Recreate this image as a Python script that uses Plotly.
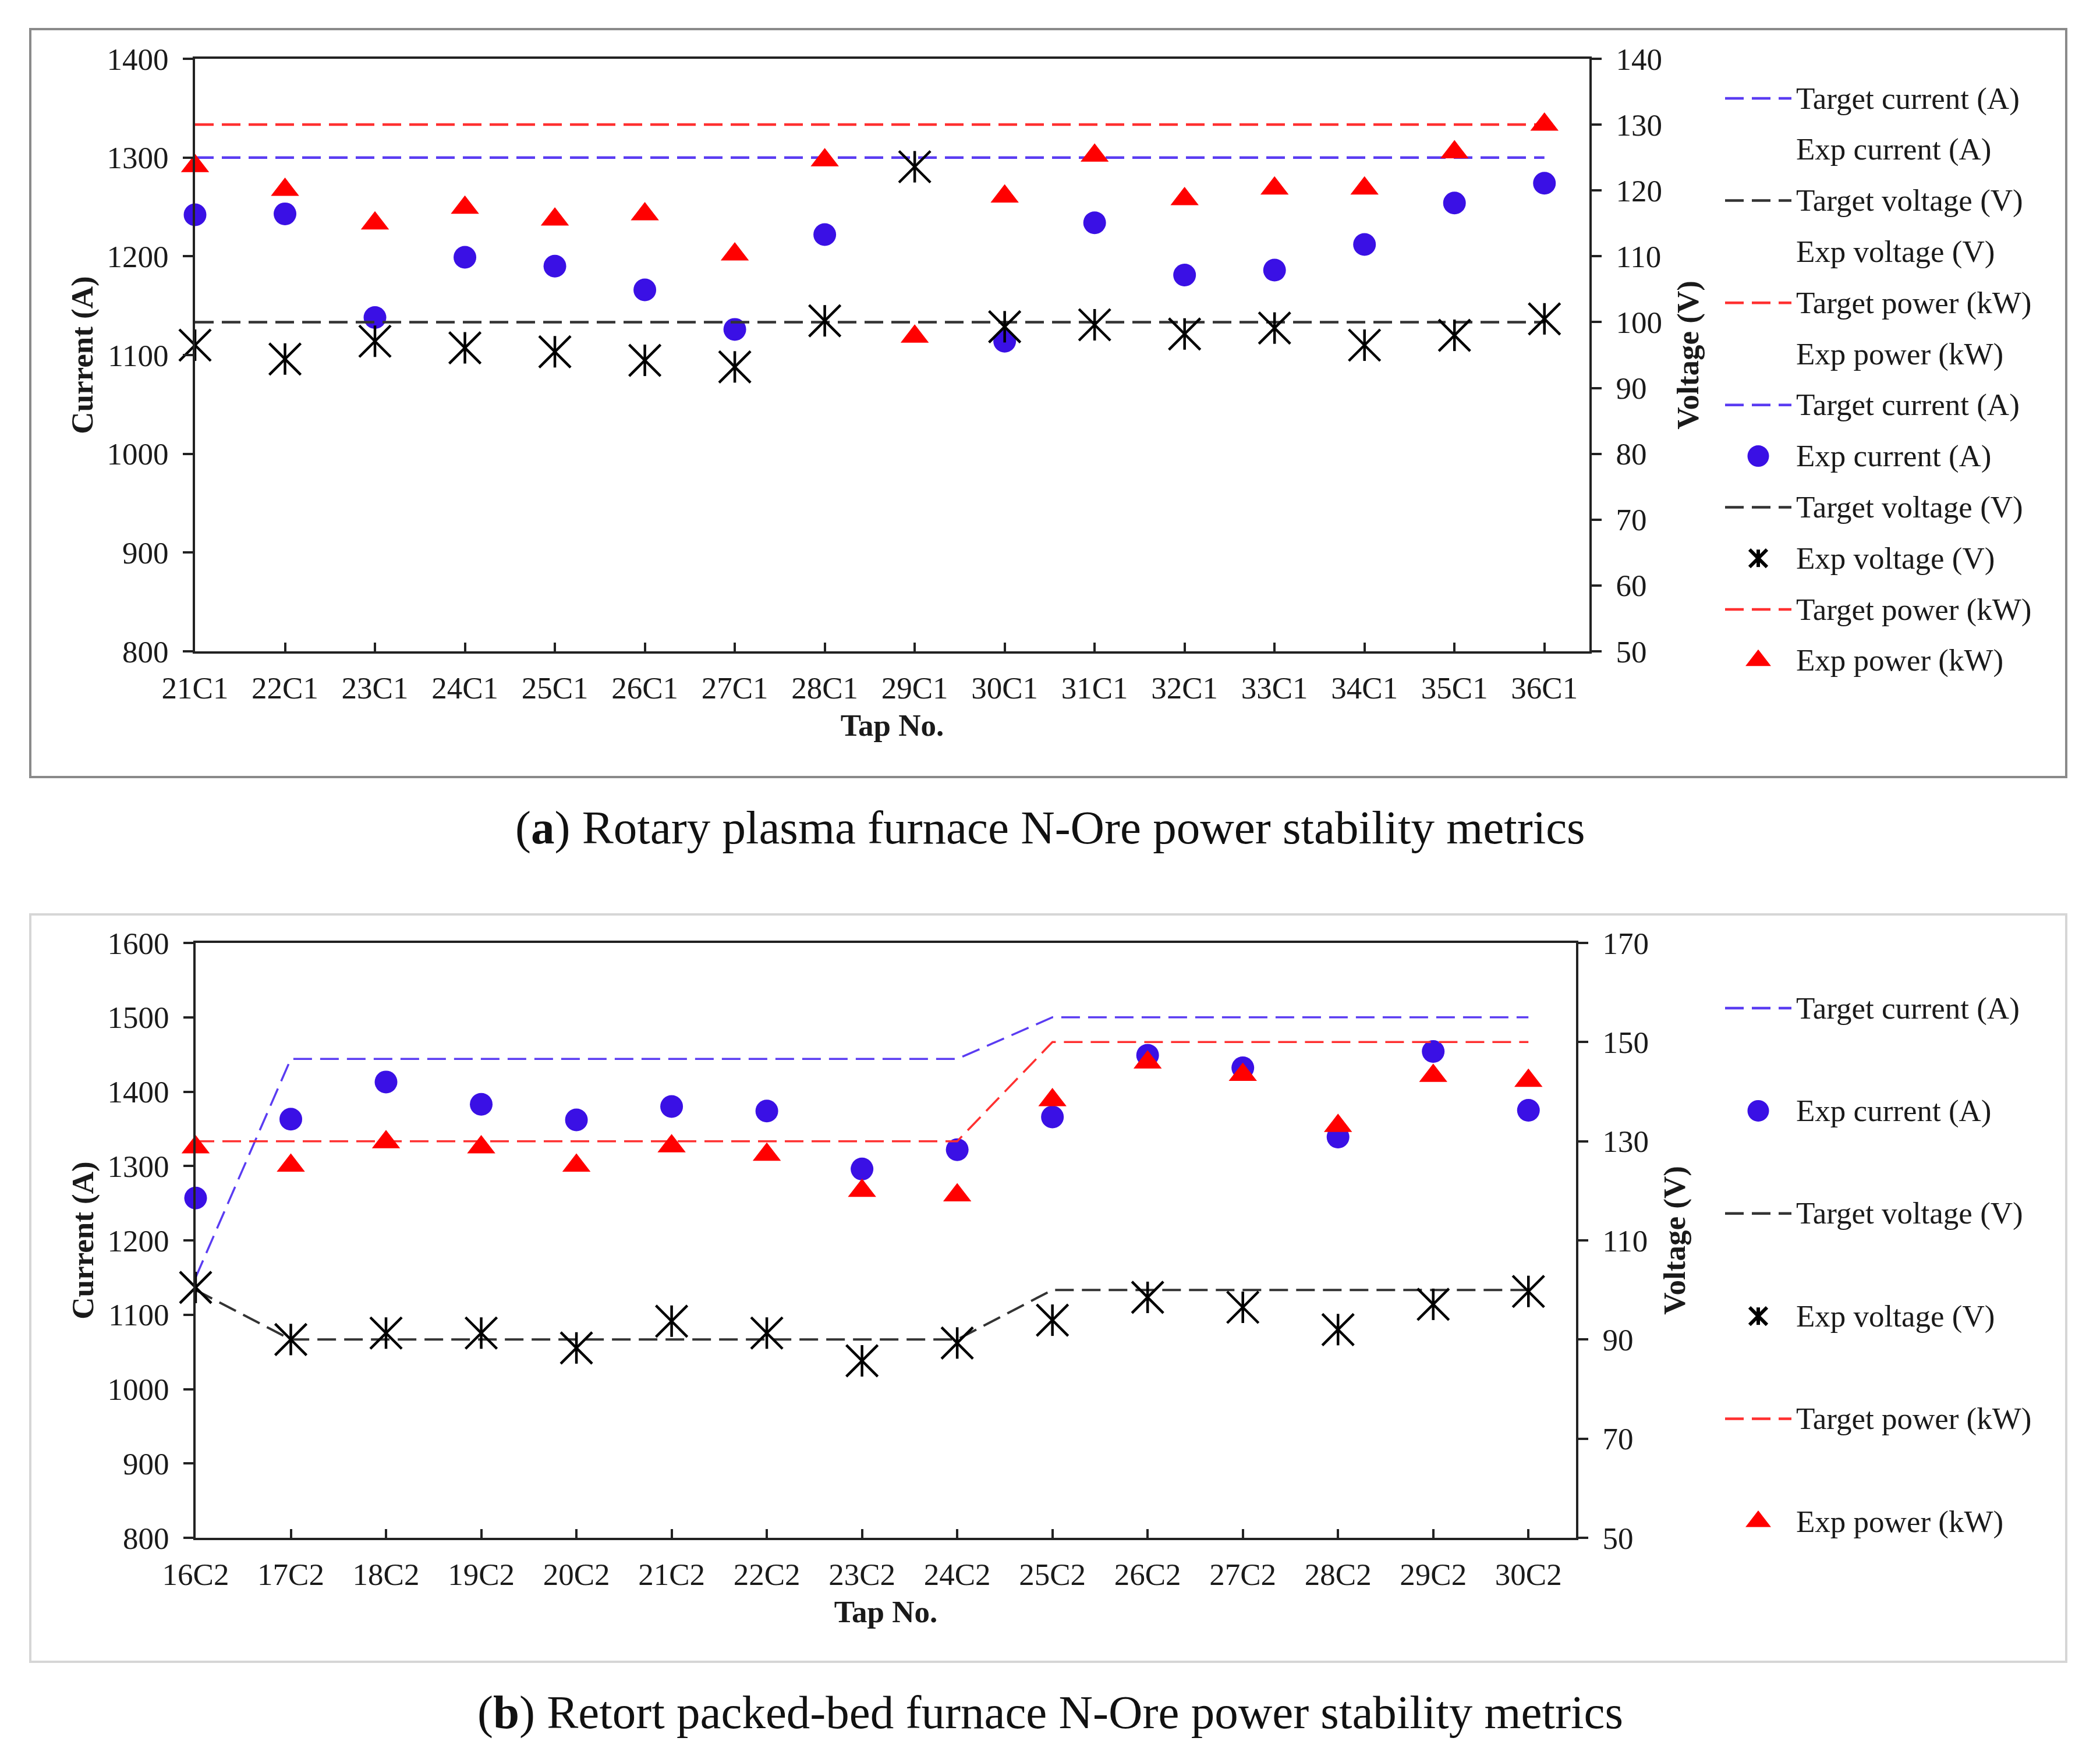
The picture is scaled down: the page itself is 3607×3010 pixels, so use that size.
import plotly.graph_objects as go

W, H = 3607, 3010
FONT = "Liberation Serif"
TXT = "#1a1a1a"

# ---------------- Data: panel (a) ----------------
taps_a = ["21C1", "22C1", "23C1", "24C1", "25C1", "26C1", "27C1", "28C1",
          "29C1", "30C1", "31C1", "32C1", "33C1", "34C1", "35C1", "36C1"]
target_current_a = [1300, 1300, 1300, 1300, 1300, 1300, 1300, 1300,
                    1300, 1300, 1300, 1300, 1300, 1300, 1300, 1300]
exp_current_a = [1242, 1243, 1138, 1199, 1190, 1166, 1126, 1222,
                 None, 1114, 1234, 1181, 1186, 1212, 1254, 1274]
target_voltage_a = [100, 100, 100, 100, 100, 100, 100, 100,
                    100, 100, 100, 100, 100, 100, 100, 100]
exp_voltage_a = [96.5, 94.4, 97.1, 96.1, 95.5, 94.2, 93.2, 100.2,
                 123.6, 99.3, 99.6, 98.2, 99.1, 96.5, 98.0, 100.5]
target_power_a = [130, 130, 130, 130, 130, 130, 130, 130,
                  130, 130, 130, 130, 130, 130, 130, 130]
exp_power_a = [123.7, 120.1, 115.0, 117.4, 115.6, 116.4, 110.3, 124.6,
               97.8, 119.1, 125.3, 118.7, 120.3, 120.3, 125.8, 130.0]
current_ticks_a = [800, 900, 1000, 1100, 1200, 1300, 1400]
voltage_ticks_a = [50, 60, 70, 80, 90, 100, 110, 120, 130, 140]

# ---------------- Data: panel (b) ----------------
taps_b = ["16C2", "17C2", "18C2", "19C2", "20C2", "21C2", "22C2", "23C2",
          "24C2", "25C2", "26C2", "27C2", "28C2", "29C2", "30C2"]
target_current_b = [1150, 1444, 1444, 1444, 1444, 1444, 1444, 1444,
                    1444, 1500, 1500, 1500, 1500, 1500, 1500]
exp_current_b = [1257, 1363, 1413, 1383, 1362, 1380, 1374, 1296,
                 1322, 1366, 1449, 1432, 1339, 1454, 1375]
target_voltage_b = [100, 90, 90, 90, 90, 90, 90, 90,
                    90, 100, 100, 100, 100, 100, 100]
exp_voltage_b = [100.5, 90.0, 91.3, 91.3, 88.3, 93.7, 91.3, 85.7,
                 89.3, 93.9, 98.5, 96.5, 92.0, 97.1, 99.7]
target_power_b = [130, 130, 130, 130, 130, 130, 130, 130,
                  130, 150, 150, 150, 150, 150, 150]
exp_power_b = [128.8, 125.1, 129.8, 128.8, 125.1, 129.0, 127.3, 120.0,
               119.1, 138.3, 145.9, 143.4, 133.1, 143.2, 142.2]
current_ticks_b = [800, 900, 1000, 1100, 1200, 1300, 1400, 1500, 1600]
voltage_ticks_b = [50, 70, 90, 110, 130, 150, 170]

legend_a = [("Target current (A)", "tc"), ("Exp current (A)", None),
            ("Target voltage (V)", "tv"), ("Exp voltage (V)", None),
            ("Target power (kW)", "tp"), ("Exp power (kW)", None),
            ("Target current (A)", "tc"), ("Exp current (A)", "ec"),
            ("Target voltage (V)", "tv"), ("Exp voltage (V)", "ev"),
            ("Target power (kW)", "tp"), ("Exp power (kW)", "ep")]
legend_b = [("Target current (A)", "tc"), ("Exp current (A)", "ec"),
            ("Target voltage (V)", "tv"), ("Exp voltage (V)", "ev"),
            ("Target power (kW)", "tp"), ("Exp power (kW)", "ep")]

# ---------------- Styles ----------------
BLUE_LINE = "#5A3CF2"
BLUE_DOT = "#3A10E5"
RED_LINE = "#FF3030"
RED = "#FF0000"
BLACK_LINE = "#333333"
DASH = "32px,14px"

line_styles = {"tc": BLUE_LINE, "tv": BLACK_LINE, "tp": RED_LINE}


def line_trace(x, y, color, xa, ya, width):
    return go.Scatter(x=x, y=y, mode="lines", xaxis=xa, yaxis=ya,
                      line=dict(color=color, width=width, dash=DASH),
                      showlegend=False, hoverinfo="skip", cliponaxis=False)


def circle_trace(x, y, xa, ya, size=39):
    return go.Scatter(x=x, y=y, mode="markers", xaxis=xa, yaxis=ya,
                      marker=dict(symbol="circle", size=size, color=BLUE_DOT,
                                  line=dict(width=0)),
                      showlegend=False, cliponaxis=False)


def triangle_trace(x, y, xa, ya, size=42):
    return go.Scatter(x=x, y=y, mode="markers", xaxis=xa, yaxis=ya,
                      marker=dict(symbol="triangle-up", size=size, color=RED,
                                  line=dict(width=0)),
                      showlegend=False, cliponaxis=False)


def star_traces(x, y, xa, ya, size=54, lw=4.5):
    # Excel-style star: an "x" with a vertical bar through it
    return [
        go.Scatter(x=x, y=y, mode="markers", xaxis=xa, yaxis=ya,
                   marker=dict(symbol="x-thin", size=size, color="#000000",
                               line=dict(width=lw, color="#000000")),
                   showlegend=False, cliponaxis=False),
        go.Scatter(x=x, y=y, mode="markers", xaxis=xa, yaxis=ya,
                   marker=dict(symbol="line-ns", size=round(size / 1.4, 1),
                               color="#000000",
                               line=dict(width=lw, color="#000000")),
                   showlegend=False, cliponaxis=False),
    ]


fig = go.Figure()

# Panel (a)
fig.add_trace(line_trace(taps_a, target_current_a, BLUE_LINE, "x", "y", 4.5))
fig.add_trace(circle_trace(taps_a, exp_current_a, "x", "y"))
fig.add_trace(line_trace(taps_a, target_voltage_a, BLACK_LINE, "x", "y2", 4.5))
fig.add_trace(line_trace(taps_a, target_power_a, RED_LINE, "x", "y2", 4.5))
fig.add_trace(triangle_trace(taps_a, exp_power_a, "x", "y2"))
for t in star_traces(taps_a, exp_voltage_a, "x", "y2"):
    fig.add_trace(t)

# Panel (b)
fig.add_trace(line_trace(taps_b, target_current_b, BLUE_LINE, "x2", "y3", 3.5))
fig.add_trace(circle_trace(taps_b, exp_current_b, "x2", "y3"))
fig.add_trace(line_trace(taps_b, target_voltage_b, BLACK_LINE, "x2", "y4", 4))
fig.add_trace(line_trace(taps_b, target_power_b, RED_LINE, "x2", "y4", 3.5))
fig.add_trace(triangle_trace(taps_b, exp_power_b, "x2", "y4"))
for t in star_traces(taps_b, exp_voltage_b, "x2", "y4"):
    fig.add_trace(t)

# ---------------- Legends (drawn on a pixel helper axis) ----------------
annotations = []


def draw_legend(items, y0, step):
    for i, (name, kind) in enumerate(items):
        yy = y0 + i * step
        if kind in line_styles:
            fig.add_trace(line_trace([2963, 3077], [yy, yy], line_styles[kind],
                                     "x3", "y5", 4.5))
        elif kind == "ec":
            fig.add_trace(circle_trace([3020], [yy], "x3", "y5", size=37))
        elif kind == "ep":
            fig.add_trace(triangle_trace([3020], [yy], "x3", "y5", size=38))
        elif kind == "ev":
            for t in star_traces([3020], [yy], "x3", "y5", size=30, lw=6):
                fig.add_trace(t)
        annotations.append(dict(text=name, x=3083, y=yy, xref="x3", yref="y5",
                                xanchor="left", yanchor="middle", showarrow=False,
                                font=dict(family=FONT, size=53, color=TXT)))


draw_legend(legend_a, 169, 87.8)
draw_legend(legend_b, 1732, 176.4)

# Captions
annotations.append(dict(text="(<b>a</b>) Rotary plasma furnace N-Ore power stability metrics",
                        x=0.5, y=1 - 1422 / H, xref="paper", yref="paper",
                        xanchor="center", yanchor="middle", showarrow=False,
                        font=dict(family=FONT, size=81, color="#111111")))
annotations.append(dict(text="(<b>b</b>) Retort packed-bed furnace N-Ore power stability metrics",
                        x=0.5, y=1 - 2942 / H, xref="paper", yref="paper",
                        xanchor="center", yanchor="middle", showarrow=False,
                        font=dict(family=FONT, size=81, color="#111111")))

# Panel frames
shapes = [
    dict(type="rect", xref="paper", yref="paper", x0=52 / W, x1=3549 / W,
         y0=1 - 1335 / H, y1=1 - 50 / H, line=dict(color="#8a8a8a", width=4)),
    dict(type="rect", xref="paper", yref="paper", x0=52 / W, x1=3549 / W,
         y0=1 - 2855 / H, y1=1 - 1571 / H, line=dict(color="#d6d6d6", width=4)),
]

tickfont = dict(family=FONT, size=53, color=TXT)
titlefont = dict(family=FONT, size=53, color=TXT)
AX = "#222222"


def xaxis_cfg(domain, anchor, n_range):
    return dict(domain=domain, anchor=anchor, range=[0, n_range], type="category",
                automargin=False,
                showline=True, linecolor=AX, linewidth=4, mirror=True,
                ticks="inside", ticklen=15, tickwidth=4, tickcolor=AX,
                tickfont=tickfont, ticklabelstandoff=13, showgrid=False, zeroline=False,
                title=dict(text="<b>Tap No.</b>", font=titlefont, standoff=18))


def yaxis_cfg(domain, anchor, rng, ticks, title, side="left", overlaying=None):
    d = dict(domain=domain, anchor=anchor, range=rng, tickvals=ticks,
             automargin=False,
             showline=True, linecolor=AX, linewidth=4, side=side,
             ticks="outside", ticklen=17, tickwidth=4, tickcolor=AX,
             tickfont=tickfont, ticklabelstandoff=14, showgrid=False, zeroline=False,
             title=dict(text=title, font=titlefont,
                        standoff=8 if side == "left" else 27))
    if overlaying:
        d["overlaying"] = overlaying
    return d


ya_dom = [1 - 1119 / H, 1 - 101 / H]
yb_dom = [1 - 2642 / H, 1 - 1620 / H]

fig.update_layout(
    template="none",
    width=W, height=H,
    margin=dict(l=0, r=0, t=0, b=0, autoexpand=False),
    paper_bgcolor="white", plot_bgcolor="rgba(0,0,0,0)",
    showlegend=False,
    font=dict(family=FONT, color=TXT),
    xaxis=xaxis_cfg([335 / W, 2730 / W], "y", 15.5),
    yaxis=yaxis_cfg(ya_dom, "x", [800, 1400], current_ticks_a, "<b>Current (A)</b>"),
    yaxis2=yaxis_cfg(ya_dom, "x", [50, 140], voltage_ticks_a, "<b>Voltage (V)</b>",
                     side="right", overlaying="y"),
    xaxis2=xaxis_cfg([336 / W, 2707 / W], "y3", 14.5),
    yaxis3=yaxis_cfg(yb_dom, "x2", [800, 1600], current_ticks_b, "<b>Current (A)</b>"),
    yaxis4=yaxis_cfg(yb_dom, "x2", [50, 170], voltage_ticks_b, "<b>Voltage (V)</b>",
                     side="right", overlaying="y3"),
    xaxis3=dict(domain=[0, 1], anchor="y5", range=[0, W], visible=False,
                fixedrange=True, automargin=False),
    yaxis5=dict(domain=[0, 1], anchor="x3", range=[H, 0], visible=False,
                fixedrange=True, automargin=False),
    annotations=annotations,
    shapes=shapes,
)

fig.write_html("out.html")
